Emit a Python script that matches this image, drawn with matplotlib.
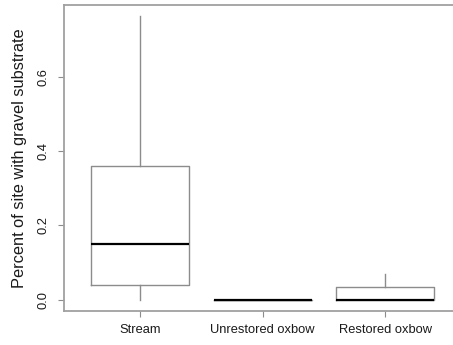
import matplotlib
matplotlib.use("Agg")
import matplotlib.pyplot as plt

plt.rcParams['font.family'] = ['Liberation Sans', 'DejaVu Sans']

# box statistics
groups = ["Stream", "Unrestored oxbow", "Restored oxbow"]
whislo = [0.0, 0.0, 0.0]
q1 = [0.040, 0.0, 0.0]
med = [0.151, 0.0, 0.0]
q3 = [0.360, 0.0, 0.033]
whishi = [0.764, 0.0, 0.068]

stats = []
for i in range(len(groups)):
    stats.append(dict(label=groups[i], whislo=whislo[i], q1=q1[i], med=med[i],
                      q3=q3[i], whishi=whishi[i], fliers=[]))

grey = "#8c8c8c"
fig = plt.figure(figsize=(4.53, 3.45), dpi=100)
ax = fig.add_axes([64.3/453, 1-311/345, (461-64.3)/453, (311-5)/345])

ax.bxp(stats, widths=0.8, showcaps=False,
       boxprops=dict(color=grey, linewidth=1.0),
       whiskerprops=dict(color=grey, linewidth=1.0),
       medianprops=dict(color="black", linewidth=1.6))

ax.set_xlim(0.38, 3.62)
ax.set_ylim(-0.0306, 0.7946)
ax.set_yticks([0.0, 0.2, 0.4, 0.6])
ax.set_yticklabels(["0.0", "0.2", "0.4", "0.6"], rotation=90, va="center")
ax.tick_params(axis="both", direction="out", length=4.3, color=grey,
               labelsize=9.3, labelcolor="#1a1a1a", width=0.8)
ax.tick_params(axis="y", pad=6.5)
ax.tick_params(axis="x", pad=5)
for s in ax.spines.values():
    s.set_color("#a0a0a0")
    s.set_linewidth(1.3)

ax.set_ylabel("Percent of site with gravel substrate", fontsize=11.8,
              color="#1a1a1a", labelpad=7.5)

fig.savefig("out.png", dpi=100)
